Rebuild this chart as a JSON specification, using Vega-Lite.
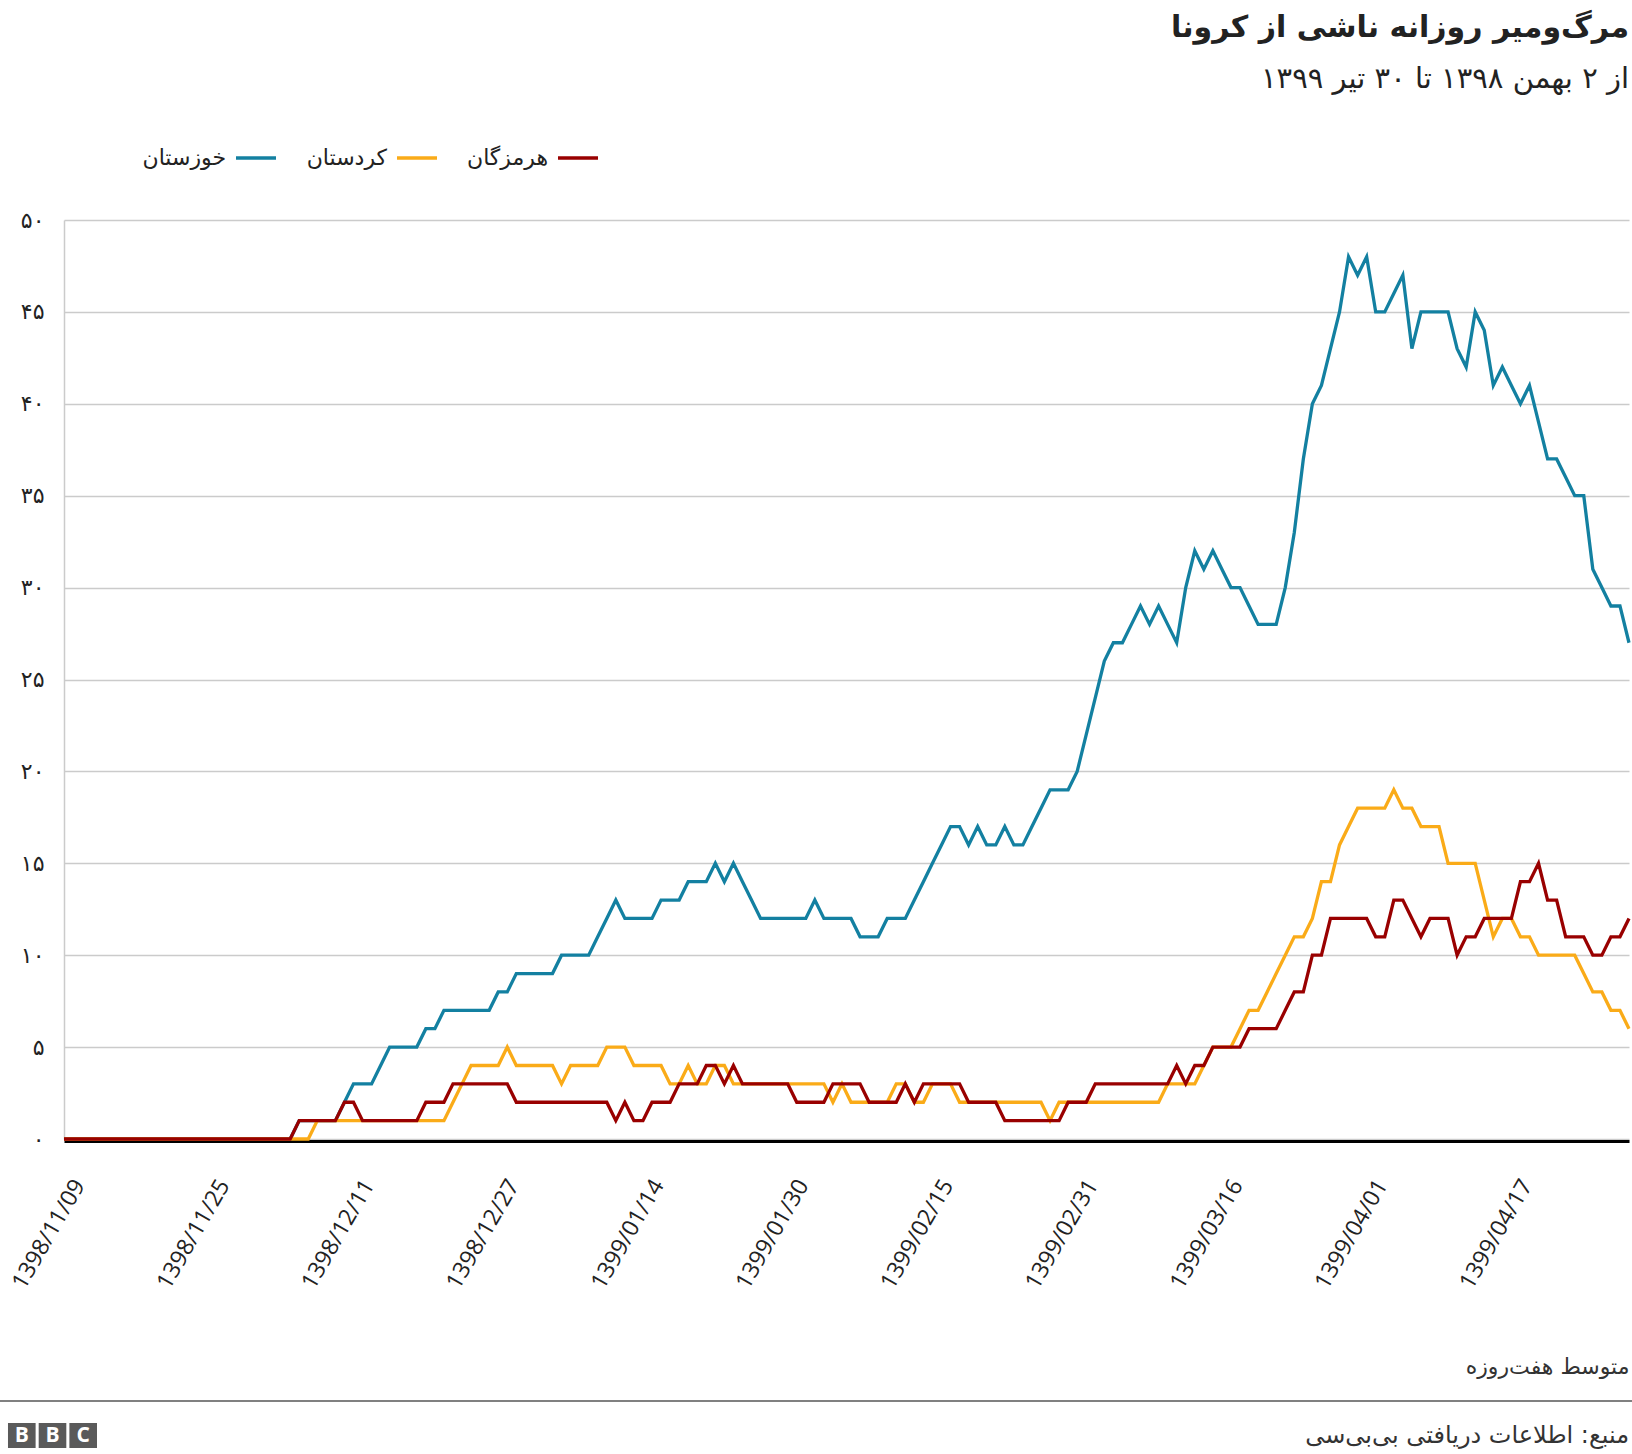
{
"$schema": "https://vega.github.io/schema/vega-lite/v6.json",
"background": "white",
"padding": {"left": 0, "top": 13, "right": 0, "bottom": 6},
"config": {"font": "DejaVu Sans", "view": {"stroke": null}},
"spacing": 17,
"vconcat": [
{
"width": 1629,
"height": 919,
"title": {"text": "مرگ‌ومیر روزانه ناشی از کرونا", "subtitle": "از ۲ بهمن ۱۳۹۸ تا ۳۰ تیر ۱۳۹۹", "anchor": "end", "frame": "group", "font": "DejaVu Sans", "fontSize": 30, "fontWeight": "bold", "color": "#222222", "subtitleFont": "DejaVu Sans", "subtitleFontSize": 29, "subtitleColor": "#222222", "subtitlePadding": 22, "offset": 115},
"data": {"values": [
{"date":"1398/11/09","خوزستان":0,"کردستان":0,"هرمزگان":0},
{"date":"1398/11/10","خوزستان":0,"کردستان":0,"هرمزگان":0},
{"date":"1398/11/11","خوزستان":0,"کردستان":0,"هرمزگان":0},
{"date":"1398/11/12","خوزستان":0,"کردستان":0,"هرمزگان":0},
{"date":"1398/11/13","خوزستان":0,"کردستان":0,"هرمزگان":0},
{"date":"1398/11/14","خوزستان":0,"کردستان":0,"هرمزگان":0},
{"date":"1398/11/15","خوزستان":0,"کردستان":0,"هرمزگان":0},
{"date":"1398/11/16","خوزستان":0,"کردستان":0,"هرمزگان":0},
{"date":"1398/11/17","خوزستان":0,"کردستان":0,"هرمزگان":0},
{"date":"1398/11/18","خوزستان":0,"کردستان":0,"هرمزگان":0},
{"date":"1398/11/19","خوزستان":0,"کردستان":0,"هرمزگان":0},
{"date":"1398/11/20","خوزستان":0,"کردستان":0,"هرمزگان":0},
{"date":"1398/11/21","خوزستان":0,"کردستان":0,"هرمزگان":0},
{"date":"1398/11/22","خوزستان":0,"کردستان":0,"هرمزگان":0},
{"date":"1398/11/23","خوزستان":0,"کردستان":0,"هرمزگان":0},
{"date":"1398/11/24","خوزستان":0,"کردستان":0,"هرمزگان":0},
{"date":"1398/11/25","خوزستان":0,"کردستان":0,"هرمزگان":0},
{"date":"1398/11/26","خوزستان":0,"کردستان":0,"هرمزگان":0},
{"date":"1398/11/27","خوزستان":0,"کردستان":0,"هرمزگان":0},
{"date":"1398/11/28","خوزستان":0,"کردستان":0,"هرمزگان":0},
{"date":"1398/11/29","خوزستان":0,"کردستان":0,"هرمزگان":0},
{"date":"1398/11/30","خوزستان":0,"کردستان":0,"هرمزگان":0},
{"date":"1398/12/01","خوزستان":0,"کردستان":0,"هرمزگان":0},
{"date":"1398/12/02","خوزستان":0,"کردستان":0,"هرمزگان":0},
{"date":"1398/12/03","خوزستان":0,"کردستان":0,"هرمزگان":0},
{"date":"1398/12/04","خوزستان":0,"کردستان":0,"هرمزگان":0},
{"date":"1398/12/05","خوزستان":1,"کردستان":0,"هرمزگان":1},
{"date":"1398/12/06","خوزستان":1,"کردستان":0,"هرمزگان":1},
{"date":"1398/12/07","خوزستان":1,"کردستان":1,"هرمزگان":1},
{"date":"1398/12/08","خوزستان":1,"کردستان":1,"هرمزگان":1},
{"date":"1398/12/09","خوزستان":1,"کردستان":1,"هرمزگان":1},
{"date":"1398/12/10","خوزستان":2,"کردستان":1,"هرمزگان":2},
{"date":"1398/12/11","خوزستان":3,"کردستان":1,"هرمزگان":2},
{"date":"1398/12/12","خوزستان":3,"کردستان":1,"هرمزگان":1},
{"date":"1398/12/13","خوزستان":3,"کردستان":1,"هرمزگان":1},
{"date":"1398/12/14","خوزستان":4,"کردستان":1,"هرمزگان":1},
{"date":"1398/12/15","خوزستان":5,"کردستان":1,"هرمزگان":1},
{"date":"1398/12/16","خوزستان":5,"کردستان":1,"هرمزگان":1},
{"date":"1398/12/17","خوزستان":5,"کردستان":1,"هرمزگان":1},
{"date":"1398/12/18","خوزستان":5,"کردستان":1,"هرمزگان":1},
{"date":"1398/12/19","خوزستان":6,"کردستان":1,"هرمزگان":2},
{"date":"1398/12/20","خوزستان":6,"کردستان":1,"هرمزگان":2},
{"date":"1398/12/21","خوزستان":7,"کردستان":1,"هرمزگان":2},
{"date":"1398/12/22","خوزستان":7,"کردستان":2,"هرمزگان":3},
{"date":"1398/12/23","خوزستان":7,"کردستان":3,"هرمزگان":3},
{"date":"1398/12/24","خوزستان":7,"کردستان":4,"هرمزگان":3},
{"date":"1398/12/25","خوزستان":7,"کردستان":4,"هرمزگان":3},
{"date":"1398/12/26","خوزستان":7,"کردستان":4,"هرمزگان":3},
{"date":"1398/12/27","خوزستان":8,"کردستان":4,"هرمزگان":3},
{"date":"1398/12/28","خوزستان":8,"کردستان":5,"هرمزگان":3},
{"date":"1398/12/29","خوزستان":9,"کردستان":4,"هرمزگان":2},
{"date":"1399/01/01","خوزستان":9,"کردستان":4,"هرمزگان":2},
{"date":"1399/01/02","خوزستان":9,"کردستان":4,"هرمزگان":2},
{"date":"1399/01/03","خوزستان":9,"کردستان":4,"هرمزگان":2},
{"date":"1399/01/04","خوزستان":9,"کردستان":4,"هرمزگان":2},
{"date":"1399/01/05","خوزستان":10,"کردستان":3,"هرمزگان":2},
{"date":"1399/01/06","خوزستان":10,"کردستان":4,"هرمزگان":2},
{"date":"1399/01/07","خوزستان":10,"کردستان":4,"هرمزگان":2},
{"date":"1399/01/08","خوزستان":10,"کردستان":4,"هرمزگان":2},
{"date":"1399/01/09","خوزستان":11,"کردستان":4,"هرمزگان":2},
{"date":"1399/01/10","خوزستان":12,"کردستان":5,"هرمزگان":2},
{"date":"1399/01/11","خوزستان":13,"کردستان":5,"هرمزگان":1},
{"date":"1399/01/12","خوزستان":12,"کردستان":5,"هرمزگان":2},
{"date":"1399/01/13","خوزستان":12,"کردستان":4,"هرمزگان":1},
{"date":"1399/01/14","خوزستان":12,"کردستان":4,"هرمزگان":1},
{"date":"1399/01/15","خوزستان":12,"کردستان":4,"هرمزگان":2},
{"date":"1399/01/16","خوزستان":13,"کردستان":4,"هرمزگان":2},
{"date":"1399/01/17","خوزستان":13,"کردستان":3,"هرمزگان":2},
{"date":"1399/01/18","خوزستان":13,"کردستان":3,"هرمزگان":3},
{"date":"1399/01/19","خوزستان":14,"کردستان":4,"هرمزگان":3},
{"date":"1399/01/20","خوزستان":14,"کردستان":3,"هرمزگان":3},
{"date":"1399/01/21","خوزستان":14,"کردستان":3,"هرمزگان":4},
{"date":"1399/01/22","خوزستان":15,"کردستان":4,"هرمزگان":4},
{"date":"1399/01/23","خوزستان":14,"کردستان":4,"هرمزگان":3},
{"date":"1399/01/24","خوزستان":15,"کردستان":3,"هرمزگان":4},
{"date":"1399/01/25","خوزستان":14,"کردستان":3,"هرمزگان":3},
{"date":"1399/01/26","خوزستان":13,"کردستان":3,"هرمزگان":3},
{"date":"1399/01/27","خوزستان":12,"کردستان":3,"هرمزگان":3},
{"date":"1399/01/28","خوزستان":12,"کردستان":3,"هرمزگان":3},
{"date":"1399/01/29","خوزستان":12,"کردستان":3,"هرمزگان":3},
{"date":"1399/01/30","خوزستان":12,"کردستان":3,"هرمزگان":3},
{"date":"1399/01/31","خوزستان":12,"کردستان":3,"هرمزگان":2},
{"date":"1399/02/01","خوزستان":12,"کردستان":3,"هرمزگان":2},
{"date":"1399/02/02","خوزستان":13,"کردستان":3,"هرمزگان":2},
{"date":"1399/02/03","خوزستان":12,"کردستان":3,"هرمزگان":2},
{"date":"1399/02/04","خوزستان":12,"کردستان":2,"هرمزگان":3},
{"date":"1399/02/05","خوزستان":12,"کردستان":3,"هرمزگان":3},
{"date":"1399/02/06","خوزستان":12,"کردستان":2,"هرمزگان":3},
{"date":"1399/02/07","خوزستان":11,"کردستان":2,"هرمزگان":3},
{"date":"1399/02/08","خوزستان":11,"کردستان":2,"هرمزگان":2},
{"date":"1399/02/09","خوزستان":11,"کردستان":2,"هرمزگان":2},
{"date":"1399/02/10","خوزستان":12,"کردستان":2,"هرمزگان":2},
{"date":"1399/02/11","خوزستان":12,"کردستان":3,"هرمزگان":2},
{"date":"1399/02/12","خوزستان":12,"کردستان":3,"هرمزگان":3},
{"date":"1399/02/13","خوزستان":13,"کردستان":2,"هرمزگان":2},
{"date":"1399/02/14","خوزستان":14,"کردستان":2,"هرمزگان":3},
{"date":"1399/02/15","خوزستان":15,"کردستان":3,"هرمزگان":3},
{"date":"1399/02/16","خوزستان":16,"کردستان":3,"هرمزگان":3},
{"date":"1399/02/17","خوزستان":17,"کردستان":3,"هرمزگان":3},
{"date":"1399/02/18","خوزستان":17,"کردستان":2,"هرمزگان":3},
{"date":"1399/02/19","خوزستان":16,"کردستان":2,"هرمزگان":2},
{"date":"1399/02/20","خوزستان":17,"کردستان":2,"هرمزگان":2},
{"date":"1399/02/21","خوزستان":16,"کردستان":2,"هرمزگان":2},
{"date":"1399/02/22","خوزستان":16,"کردستان":2,"هرمزگان":2},
{"date":"1399/02/23","خوزستان":17,"کردستان":2,"هرمزگان":1},
{"date":"1399/02/24","خوزستان":16,"کردستان":2,"هرمزگان":1},
{"date":"1399/02/25","خوزستان":16,"کردستان":2,"هرمزگان":1},
{"date":"1399/02/26","خوزستان":17,"کردستان":2,"هرمزگان":1},
{"date":"1399/02/27","خوزستان":18,"کردستان":2,"هرمزگان":1},
{"date":"1399/02/28","خوزستان":19,"کردستان":1,"هرمزگان":1},
{"date":"1399/02/29","خوزستان":19,"کردستان":2,"هرمزگان":1},
{"date":"1399/02/30","خوزستان":19,"کردستان":2,"هرمزگان":2},
{"date":"1399/02/31","خوزستان":20,"کردستان":2,"هرمزگان":2},
{"date":"1399/03/01","خوزستان":22,"کردستان":2,"هرمزگان":2},
{"date":"1399/03/02","خوزستان":24,"کردستان":2,"هرمزگان":3},
{"date":"1399/03/03","خوزستان":26,"کردستان":2,"هرمزگان":3},
{"date":"1399/03/04","خوزستان":27,"کردستان":2,"هرمزگان":3},
{"date":"1399/03/05","خوزستان":27,"کردستان":2,"هرمزگان":3},
{"date":"1399/03/06","خوزستان":28,"کردستان":2,"هرمزگان":3},
{"date":"1399/03/07","خوزستان":29,"کردستان":2,"هرمزگان":3},
{"date":"1399/03/08","خوزستان":28,"کردستان":2,"هرمزگان":3},
{"date":"1399/03/09","خوزستان":29,"کردستان":2,"هرمزگان":3},
{"date":"1399/03/10","خوزستان":28,"کردستان":3,"هرمزگان":3},
{"date":"1399/03/11","خوزستان":27,"کردستان":3,"هرمزگان":4},
{"date":"1399/03/12","خوزستان":30,"کردستان":3,"هرمزگان":3},
{"date":"1399/03/13","خوزستان":32,"کردستان":3,"هرمزگان":4},
{"date":"1399/03/14","خوزستان":31,"کردستان":4,"هرمزگان":4},
{"date":"1399/03/15","خوزستان":32,"کردستان":5,"هرمزگان":5},
{"date":"1399/03/16","خوزستان":31,"کردستان":5,"هرمزگان":5},
{"date":"1399/03/17","خوزستان":30,"کردستان":5,"هرمزگان":5},
{"date":"1399/03/18","خوزستان":30,"کردستان":6,"هرمزگان":5},
{"date":"1399/03/19","خوزستان":29,"کردستان":7,"هرمزگان":6},
{"date":"1399/03/20","خوزستان":28,"کردستان":7,"هرمزگان":6},
{"date":"1399/03/21","خوزستان":28,"کردستان":8,"هرمزگان":6},
{"date":"1399/03/22","خوزستان":28,"کردستان":9,"هرمزگان":6},
{"date":"1399/03/23","خوزستان":30,"کردستان":10,"هرمزگان":7},
{"date":"1399/03/24","خوزستان":33,"کردستان":11,"هرمزگان":8},
{"date":"1399/03/25","خوزستان":37,"کردستان":11,"هرمزگان":8},
{"date":"1399/03/26","خوزستان":40,"کردستان":12,"هرمزگان":10},
{"date":"1399/03/27","خوزستان":41,"کردستان":14,"هرمزگان":10},
{"date":"1399/03/28","خوزستان":43,"کردستان":14,"هرمزگان":12},
{"date":"1399/03/29","خوزستان":45,"کردستان":16,"هرمزگان":12},
{"date":"1399/03/30","خوزستان":48,"کردستان":17,"هرمزگان":12},
{"date":"1399/03/31","خوزستان":47,"کردستان":18,"هرمزگان":12},
{"date":"1399/04/01","خوزستان":48,"کردستان":18,"هرمزگان":12},
{"date":"1399/04/02","خوزستان":45,"کردستان":18,"هرمزگان":11},
{"date":"1399/04/03","خوزستان":45,"کردستان":18,"هرمزگان":11},
{"date":"1399/04/04","خوزستان":46,"کردستان":19,"هرمزگان":13},
{"date":"1399/04/05","خوزستان":47,"کردستان":18,"هرمزگان":13},
{"date":"1399/04/06","خوزستان":43,"کردستان":18,"هرمزگان":12},
{"date":"1399/04/07","خوزستان":45,"کردستان":17,"هرمزگان":11},
{"date":"1399/04/08","خوزستان":45,"کردستان":17,"هرمزگان":12},
{"date":"1399/04/09","خوزستان":45,"کردستان":17,"هرمزگان":12},
{"date":"1399/04/10","خوزستان":45,"کردستان":15,"هرمزگان":12},
{"date":"1399/04/11","خوزستان":43,"کردستان":15,"هرمزگان":10},
{"date":"1399/04/12","خوزستان":42,"کردستان":15,"هرمزگان":11},
{"date":"1399/04/13","خوزستان":45,"کردستان":15,"هرمزگان":11},
{"date":"1399/04/14","خوزستان":44,"کردستان":13,"هرمزگان":12},
{"date":"1399/04/15","خوزستان":41,"کردستان":11,"هرمزگان":12},
{"date":"1399/04/16","خوزستان":42,"کردستان":12,"هرمزگان":12},
{"date":"1399/04/17","خوزستان":41,"کردستان":12,"هرمزگان":12},
{"date":"1399/04/18","خوزستان":40,"کردستان":11,"هرمزگان":14},
{"date":"1399/04/19","خوزستان":41,"کردستان":11,"هرمزگان":14},
{"date":"1399/04/20","خوزستان":39,"کردستان":10,"هرمزگان":15},
{"date":"1399/04/21","خوزستان":37,"کردستان":10,"هرمزگان":13},
{"date":"1399/04/22","خوزستان":37,"کردستان":10,"هرمزگان":13},
{"date":"1399/04/23","خوزستان":36,"کردستان":10,"هرمزگان":11},
{"date":"1399/04/24","خوزستان":35,"کردستان":10,"هرمزگان":11},
{"date":"1399/04/25","خوزستان":35,"کردستان":9,"هرمزگان":11},
{"date":"1399/04/26","خوزستان":31,"کردستان":8,"هرمزگان":10},
{"date":"1399/04/27","خوزستان":30,"کردستان":8,"هرمزگان":10},
{"date":"1399/04/28","خوزستان":29,"کردستان":7,"هرمزگان":11},
{"date":"1399/04/29","خوزستان":29,"کردستان":7,"هرمزگان":11},
{"date":"1399/04/30","خوزستان":27,"کردستان":6,"هرمزگان":12}
]},
"transform": [{"fold": ["خوزستان", "کردستان", "هرمزگان"], "as": ["province", "deaths"]}],
"mark": {"type": "line", "strokeWidth": 3.3, "strokeJoin": "miter"},
"encoding": {
"x": {"field": "date", "type": "ordinal", "scale": {"type": "point", "padding": 0, "range": [64, 1629]},
 "axis": {"values": ["1398/11/09","1398/11/25","1398/12/11","1398/12/27","1399/01/14","1399/01/30","1399/02/15","1399/02/31","1399/03/16","1399/04/01","1399/04/17"],
  "labelAngle": -60, "labelAlign": "right", "labelBaseline": "middle", "labelFont": "Open Sans", "labelFontSize": 23, "labelColor": "#222222", "labelPadding": 40, "labelOffset": 15,
  "ticks": false, "grid": false, "domainColor": "#000000", "domainWidth": 3, "offset": 2,
  "title": "متوسط هفت‌روزه", "titleAnchor": "end", "titleAlign": "right", "titleFont": "DejaVu Sans", "titleFontSize": 22, "titleFontWeight": "normal", "titleColor": "#333333", "titlePadding": 64}},
"y": {"field": "deaths", "type": "quantitative", "scale": {"domain": [0, 50], "nice": false, "zero": true},
 "axis": {"values": [0,5,10,15,20,25,30,35,40,45,50], "labelExpr": "['۰','۵','۱۰','۱۵','۲۰','۲۵','۳۰','۳۵','۴۰','۴۵','۵۰'][round(datum.value/5)]",
  "labelFont": "DejaVu Sans", "labelFontSize": 22, "labelColor": "#222222", "labelPadding": 20, "ticks": false, "offset": -64,
  "domain": true, "domainColor": "#cbcbcb", "domainWidth": 1.5, "gridColor": "#cbcbcb", "gridWidth": 1.5,
  "title": null}},
"color": {"field": "province", "type": "nominal",
 "scale": {"domain": ["خوزستان", "کردستان", "هرمزگان"], "range": ["#1380A1", "#FAAB18", "#990000"]},
 "legend": {"orient": "none", "legendX": 234, "legendY": -84, "direction": "horizontal", "title": null,
  "symbolType": "stroke", "symbolStrokeWidth": 3.5, "symbolSize": 1600, "labelFont": "DejaVu Sans", "labelFontSize": 22, "labelColor": "#222222",
  "labelAlign": "right", "labelOffset": -52, "columnPadding": 23}}
}
},
{
"width": 1632,
"height": 2,
"view": {"fill": "#808080", "stroke": null},
"data": {"values": [{"note": ""}]},
"mark": {"type": "text"},
"encoding": {"text": {"field": "note"}}
},
{
"spacing": 0,
"hconcat": [
{
"width": 105,
"height": 25,
"data": {"values": [{"slot": 1, "letter": "B"}, {"slot": 2, "letter": "B"}, {"slot": 3, "letter": "C"}]},
"encoding": {"x": {"field": "slot", "type": "ordinal", "axis": null, "scale": {"paddingInner": 0.1, "paddingOuter": 0.26}}},
"layer": [
{"mark": {"type": "rect", "color": "#5a5a5a"}},
{"mark": {"type": "text", "color": "white", "font": "Open Sans", "fontWeight": "bold", "fontSize": 21}, "encoding": {"text": {"field": "letter"}}}
]
},
{
"width": 1524,
"height": 25,
"data": {"values": [{"source": "منبع: اطلاعات دریافتی بی‌بی‌سی"}]},
"mark": {"type": "text", "align": "right", "font": "DejaVu Sans", "fontSize": 24, "color": "#333333"},
"encoding": {"text": {"field": "source"}, "x": {"value": "width"}}
}
]
}
]
}
